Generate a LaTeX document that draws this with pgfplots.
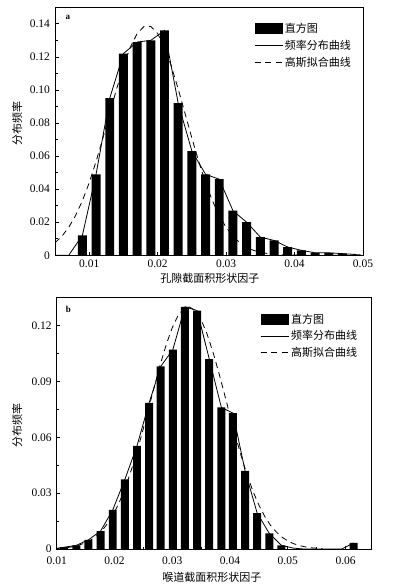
\documentclass[border=0pt]{standalone}
\usepackage{fontspec}
\setmainfont{Liberation Serif}
\newfontfamily\cjk{Noto Sans CJK SC}
\usepackage{pgfplots}
\pgfplotsset{compat=1.18}
\pgfplotsset{
  myaxis/.style={
    scale only axis, anchor=south west,
    axis line style={line width=0.9pt},
    tick align=inside, xtick pos=left, ytick pos=left,
    major tick length=3.5pt, minor tick length=2.5pt,
    every tick/.style={line width=0.7pt, black},
    scaled ticks=false,
    /pgf/number format/assume math mode=true,
    tick label style={font=\fontsize{11.5}{13}\selectfont},
    yticklabel style={xshift=-1.5pt},
    xticklabel style={yshift=-1pt},
    label style={font=\cjk\fontsize{11}{13}\selectfont},
    legend style={draw=none, fill=none, font=\cjk\fontsize{11}{13}\selectfont,
      inner sep=0pt, row sep=2pt, legend cell align=left},
    legend image code/.code={\draw[##1] (0pt,0pt) -- (28pt,0pt);},
  },
  barimg/.style={legend image code/.code={\fill[black] (0pt,-5.5pt) rectangle (28pt,5.5pt);}},
}
\begin{document}
\begin{tikzpicture}
\path[use as bounding box] (0pt,0pt) rectangle (397pt,587pt);
% ---------------- (a) ----------------
\begin{axis}[myaxis, at={(55pt,331.7pt)}, width=308pt, height=248pt,
  xmin=0.005, xmax=0.05, ymin=0, ymax=0.15,
  xtick={0.01,0.02,0.03,0.04,0.05}, xticklabels={0.01,0.02,0.03,0.04,0.05},
  ytick={0,0.02,0.04,0.06,0.08,0.10,0.12,0.14},
  yticklabels={0,0.02,0.04,0.06,0.08,0.10,0.12,0.14},
  minor y tick num=1,
  xlabel={孔隙截面积形状因子}, ylabel={分布频率},
  xlabel style={at={(axis description cs:0.503,-0.0915)}, anchor=center},
  ylabel style={at={(axis description cs:-0.123,0.533)}, anchor=center, rotate=0},
  legend style={at={(axis description cs:0.646,0.945)}, anchor=north west},
]
\addplot[ybar, bar width=0.00131, fill=black, draw=none, barimg] coordinates {
(0.009,0.012) (0.011,0.049) (0.013,0.095) (0.015,0.122) (0.017,0.129)
(0.019,0.130) (0.021,0.136) (0.023,0.092) (0.025,0.063) (0.027,0.049)
(0.029,0.046) (0.031,0.027) (0.033,0.020) (0.035,0.011) (0.037,0.009)
(0.039,0.005) (0.041,0.003) (0.043,0.0015) (0.045,0.0015) (0.047,0.001)
(0.049,0.0005)};
\addlegendentry{直方图}
\addplot[black, line width=0.8pt] coordinates {
(0.005,0) (0.007,0) (0.009,0.012) (0.011,0.049) (0.013,0.095) (0.015,0.122)
(0.017,0.129) (0.019,0.130) (0.021,0.136) (0.023,0.092) (0.025,0.063)
(0.027,0.049) (0.029,0.046) (0.031,0.027) (0.033,0.020) (0.035,0.011)
(0.037,0.009) (0.039,0.005) (0.041,0.003) (0.043,0.0015) (0.045,0.0015)
(0.047,0.001) (0.049,0.0005)};
\addlegendentry{频率分布曲线}
\addplot[black, line width=0.8pt, dash pattern=on 6pt off 4.5pt] coordinates {
(0.005,0.0076) (0.006,0.0115) (0.007,0.0169) (0.008,0.0240) (0.009,0.0330)
(0.010,0.0439) (0.011,0.0567) (0.012,0.0709) (0.013,0.0858) (0.014,0.1006)
(0.015,0.1143) (0.016,0.1258) (0.017,0.1341) (0.018,0.1384) (0.019,0.1384)
(0.020,0.1341) (0.021,0.1258) (0.022,0.1143) (0.023,0.1006) (0.024,0.0858)
(0.025,0.0709) (0.026,0.0567) (0.027,0.0439) (0.028,0.0330) (0.029,0.0240)
(0.030,0.0169) (0.031,0.0115) (0.032,0.0076) (0.033,0.0049) (0.034,0.0030)
(0.035,0.0018) (0.036,0.0011) (0.037,0.0006) (0.038,0.0003) (0.040,0.0001)
(0.045,0) (0.049,0)};
\addlegendentry{高斯拟合曲线}
\node[font=\bfseries\fontsize{9}{10}\selectfont] at (rel axis cs:0.042,0.961) {a};
\end{axis}
% ---------------- (b) ----------------
\begin{axis}[myaxis, at={(56.7pt,37.9pt)}, width=314.3pt, height=251.6pt,
  xmin=0.01, xmax=0.0644, ymin=0, ymax=0.135,
  xtick={0.01,0.02,0.03,0.04,0.05,0.06}, xticklabels={0.01,0.02,0.03,0.04,0.05,0.06},
  minor x tick num=1,
  ytick={0,0.03,0.06,0.09,0.12}, yticklabels={0,0.03,0.06,0.09,0.12},
  minor y tick num=1,
  xticklabel style={yshift=-3.5pt},
  xlabel={喉道截面积形状因子}, ylabel={分布频率},
  xlabel style={at={(axis description cs:0.494,-0.111)}, anchor=center},
  ylabel style={at={(axis description cs:-0.126,0.493)}, anchor=center, rotate=0},
  legend style={at={(axis description cs:0.647,0.944)}, anchor=north west},
]
\addplot[ybar, bar width=0.00138, fill=black, draw=none, barimg] coordinates {
(0.0113,0.001) (0.0134,0.002) (0.0155,0.005) (0.0176,0.0097) (0.0197,0.021)
(0.0218,0.0374) (0.0239,0.0554) (0.0260,0.0785) (0.0280,0.098) (0.0301,0.107)
(0.0322,0.130) (0.0343,0.128) (0.0364,0.102) (0.0385,0.076) (0.0405,0.073)
(0.0426,0.042) (0.0447,0.0193) (0.0468,0.0084) (0.0489,0.002) (0.0614,0.0033)};
\addlegendentry{直方图}
\addplot[black, line width=0.8pt] coordinates {
(0.0100,0.0004) (0.0113,0.001) (0.0134,0.002) (0.0155,0.005) (0.0176,0.0097)
(0.0197,0.021) (0.0218,0.0374) (0.0239,0.0554) (0.0260,0.0785) (0.0280,0.098)
(0.0301,0.107) (0.0322,0.130) (0.0343,0.128) (0.0364,0.102) (0.0385,0.076)
(0.0405,0.073) (0.0426,0.042) (0.0447,0.0193) (0.0468,0.0084) (0.0489,0.002)
(0.0510,0.0005) (0.0530,0) (0.0551,0) (0.0572,0) (0.0593,0) (0.0614,0.0033)};
\addlegendentry{频率分布曲线}
\addplot[black, line width=0.8pt, dash pattern=on 6pt off 4.5pt] coordinates {
(0.010,0.0003) (0.011,0.0006) (0.012,0.0009) (0.013,0.0014) (0.014,0.0023)
(0.015,0.0034) (0.016,0.0051) (0.017,0.0074) (0.018,0.0105) (0.019,0.0146)
(0.020,0.0198) (0.021,0.0263) (0.022,0.0341) (0.023,0.0432) (0.024,0.0534)
(0.025,0.0647) (0.026,0.0765) (0.027,0.0884) (0.028,0.0998) (0.029,0.1101)
(0.030,0.1188) (0.031,0.1253) (0.032,0.1291) (0.033,0.1299) (0.034,0.1279)
(0.035,0.1230) (0.036,0.1156) (0.037,0.1062) (0.038,0.0953) (0.039,0.0836)
(0.040,0.0717) (0.041,0.0601) (0.042,0.0492) (0.043,0.0394) (0.044,0.0308)
(0.045,0.0236) (0.046,0.0176) (0.047,0.0128) (0.048,0.0092) (0.049,0.0064)
(0.050,0.0044) (0.051,0.0029) (0.052,0.0019) (0.053,0.0012) (0.054,0.0007)
(0.055,0.0005) (0.056,0.0003)};
\addlegendentry{高斯拟合曲线}
\node[font=\bfseries\fontsize{9}{10}\selectfont] at (rel axis cs:0.037,0.953) {b};
\end{axis}
\end{tikzpicture}
\end{document}
